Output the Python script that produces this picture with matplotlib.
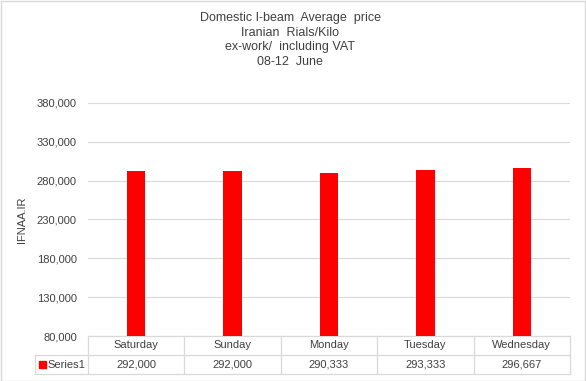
import matplotlib
matplotlib.use("Agg")
import matplotlib.pyplot as plt
from matplotlib.patches import Rectangle
import matplotlib.transforms as mtransforms

plt.rcParams['font.family'] = ['Liberation Sans', 'DejaVu Sans']

categories = ["Saturday", "Sunday", "Monday", "Tuesday", "Wednesday"]
values = [292000, 292000, 290333, 293333, 296667]
value_labels = ["292,000", "292,000", "290,333", "293,333", "296,667"]
series_name = "Series1"
yticks = [80000, 130000, 180000, 230000, 280000, 330000, 380000]
title = "Domestic I-beam  Average  price\nIranian  Rials/Kilo\nex-work/  including VAT\n08-12  June"

W, H = 586, 381
fig = plt.figure(figsize=(W / 100, H / 100), dpi=100)
ax = fig.add_axes([88 / W, 1 - 336 / H, (570 - 88) / W, (336 - 103) / H])

x = list(range(len(categories)))
ax.bar(x, values, width=0.19, color="#ff0000", zorder=3)
ax.set_xlim(-0.5, len(categories) - 0.5)
ax.set_ylim(80000, 380000)
ax.set_yticks(yticks)
ax.set_yticklabels([f"{v:,}" for v in yticks], fontsize=8, color="#404040")
ax.tick_params(axis="y", length=0, pad=8)
ax.set_xticks([])
for s in ax.spines.values():
    s.set_visible(False)
ax.grid(axis="y", color="#d9d9d9", linewidth=0.8, zorder=0)

fig.text(0.495, 1 - 12 / H, title, ha="center", va="top", fontsize=9,
         color="#404040", linespacing=1.28)
fig.text(22 / W, 1 - 220 / H, "IFNAA.IR", rotation=90, ha="center", va="center",
         fontsize=8, color="#404040")

# data table below the axes
trans = mtransforms.blended_transform_factory(ax.transData, ax.transAxes)
axh_px = 336 - 103
rh = 19 / axh_px
gc = "#d9d9d9"
n = len(categories)
left_x = -0.5 - (88 - 35) / ((570 - 88) / n)
kw = dict(color=gc, linewidth=0.9, transform=trans, clip_on=False)
ax.plot([-0.5, n - 0.5], [0, 0], **kw)
ax.plot([left_x, n - 0.5], [-rh, -rh], **kw)
ax.plot([left_x, n - 0.5], [-2 * rh, -2 * rh], **kw)
for i in range(n + 1):
    ax.plot([i - 0.5, i - 0.5], [0, -2 * rh], **kw)
ax.plot([left_x, left_x], [-rh, -2 * rh], **kw)
for i, (c, v) in enumerate(zip(categories, value_labels)):
    ax.text(i, -0.5 * rh, c, transform=trans, ha="center", va="center",
            fontsize=8, color="#404040")
    ax.text(i, -1.5 * rh, v, transform=trans, ha="center", va="center",
            fontsize=8, color="#404040")
ax.add_patch(Rectangle((left_x + 0.04, -1.5 * rh - 0.016), 0.07, 0.032,
                       transform=trans, color="#ff0000", clip_on=False))
ax.text(left_x + 0.13, -1.5 * rh, series_name, transform=trans, ha="left",
        va="center", fontsize=8, color="#404040")

fig.patches.append(Rectangle((0.5 / W, 0.5 / H), 1 - 1.5 / W, 1 - 1.5 / H,
                             transform=fig.transFigure, fill=False,
                             edgecolor="#d9d9d9", linewidth=1))
fig.savefig("out.png", dpi=100)
